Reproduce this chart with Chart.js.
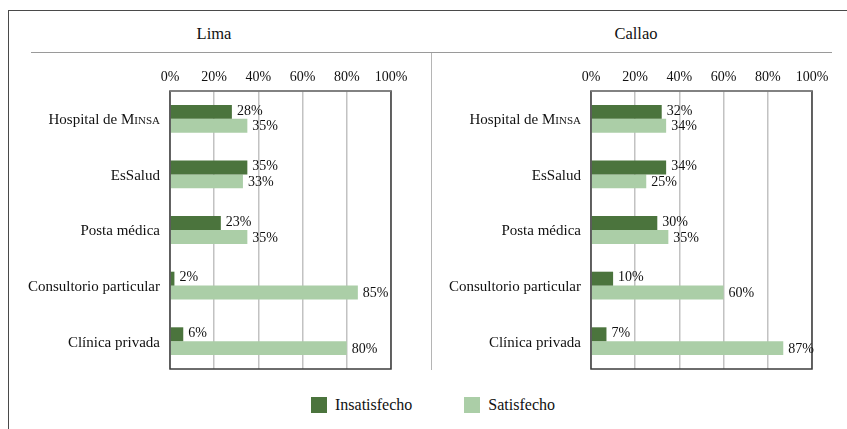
<!DOCTYPE html>
<html>
<head>
<meta charset="utf-8">
<script src="https://cdn.jsdelivr.net/npm/chart.js@4.4.1/dist/chart.umd.min.js"></script>
<style>
  body { margin: 0; background: #fff; overflow: hidden; width: 847px; height: 429px; position: relative; font-family: 'Liberation Serif', 'DejaVu Serif', serif; color: #111; }
  .frame { position: absolute; left: 8px; top: 10px; width: 900px; height: 500px; border: 1.5px solid #4a4a4a; box-sizing: border-box; }
  .title { position: absolute; top: 24px; width: 200px; text-align: center; font-size: 16.5px; }
  .rule { position: absolute; left: 31px; top: 52px; width: 801px; height: 0; border-top: 1.3px solid #9a9a9a; }
  .sep { position: absolute; left: 431px; top: 53px; width: 0; height: 317px; border-left: 1.5px solid #b5b5b5; }
  .chartbox { position: absolute; top: 60px; width: 430px; height: 320px; }
  #legend { position: absolute; left: 0; top: 396px; width: 866px; display: flex; justify-content: center; gap: 52px; font-size: 16px; }
  #legend span.item { display: flex; align-items: center; }
  #legend span.box { display: inline-block; width: 16px; height: 16px; margin-right: 8px; }
</style>
</head>
<body>
<div class="frame"></div>
<div class="title" style="left:114px">Lima</div>
<div class="title" style="left:536px">Callao</div>
<div class="rule"></div>
<div class="sep"></div>
<div class="chartbox" style="left:0px"><canvas id="lima"></canvas></div>
<div class="chartbox" style="left:421px"><canvas id="callao"></canvas></div>
<div id="legend"></div>
<script>
const categories = ["Hospital de MINSA", "EsSalud", "Posta médica", "Consultorio particular", "Clínica privada"];
const seriesNames = ["Insatisfecho", "Satisfecho"];
const seriesColors = ["#4b743d", "#abcea7"];
const limaInsatisfecho = [28, 35, 23, 2, 6];
const limaSatisfecho = [35, 33, 35, 85, 80];
const callaoInsatisfecho = [32, 34, 30, 10, 7];
const callaoSatisfecho = [34, 25, 35, 60, 87];
const xTicks = [0, 20, 40, 60, 80, 100];

const SERIF = "'Liberation Serif', 'DejaVu Serif', serif";
Chart.defaults.font.family = SERIF;

// category labels (drawn by hand so "Minsa" can be in small caps)
const catLabels = {
  id: 'catLabels',
  afterDraw(chart) {
    const ctx = chart.ctx, y = chart.scales.y, x0 = chart.chartArea.left - 10;
    ctx.save();
    ctx.fillStyle = '#111';
    ctx.textBaseline = 'middle';
    categories.forEach((c, i) => {
      const py = y.getPixelForValue(i) + 1.5;
      if (c.endsWith('MINSA')) {
        const head = c.slice(0, c.length - 4), tail = 'INSA';
        ctx.font = '11px ' + SERIF;
        const wt = ctx.measureText(tail).width;
        ctx.textAlign = 'right';
        ctx.fillText(tail, x0, py + 1);
        ctx.font = '15px ' + SERIF;
        ctx.fillText(head, x0 - wt, py);
      } else {
        ctx.font = '15px ' + SERIF;
        ctx.textAlign = 'right';
        ctx.fillText(c, x0, py);
      }
    });
    ctx.restore();
  }
};

// frame around plot area + value labels
const plotFrame = {
  id: 'plotFrame',
  afterDatasetsDraw(chart) {
    const ctx = chart.ctx, a = chart.chartArea;
    ctx.save();
    ctx.strokeStyle = '#3c3c3c';
    ctx.lineWidth = 1.5;
    ctx.strokeRect(a.left, a.top, a.right - a.left, a.bottom - a.top);
    ctx.strokeStyle = '#8a8a8a';
    ctx.beginPath();
    ctx.moveTo(a.left, a.top);
    ctx.lineTo(a.right, a.top);
    ctx.stroke();
    ctx.font = '14px ' + SERIF;
    ctx.fillStyle = '#111';
    ctx.textAlign = 'left';
    ctx.textBaseline = 'middle';
    chart.data.datasets.forEach((ds, di) => {
      chart.getDatasetMeta(di).data.forEach((bar, i) => {
        ctx.fillText(ds.data[i] + '%', bar.x + 5, bar.y + (di === 0 ? -1 : 1));
      });
    });
    ctx.restore();
  }
};

function makeChart(id, ins, sat) {
  return new Chart(document.getElementById(id), {
    type: 'bar',
    data: {
      labels: categories,
      datasets: [{
        label: seriesNames[0],
        data: ins,
        backgroundColor: seriesColors[0]
      }, {
        label: seriesNames[1],
        data: sat,
        backgroundColor: seriesColors[1]
      }]
    },
    options: {
      indexAxis: 'y',
      responsive: true,
      maintainAspectRatio: false,
      animation: false,
      layout: { padding: { left: 10, right: 39, top: 5, bottom: 11 } },
      datasets: { bar: { categoryPercentage: 0.5, barPercentage: 1.0 } },
      scales: {
        x: {
          position: 'top',
          min: 0,
          max: 100,
          afterBuildTicks: s => { s.ticks = xTicks.map(v => ({ value: v })); },
          afterFit: s => { s.height = 26; },
          grid: { color: '#c2c2c2', lineWidth: 1.5, drawTicks: false },
          border: { display: false },
          ticks: {
            padding: 5.5,
            color: '#111',
            font: { family: SERIF, size: 14 },
            maxRotation: 0,
            callback: v => v + '%'
          }
        },
        y: {
          afterFit: s => { s.width = 160; },
          grid: { display: false },
          border: { display: false },
          ticks: { display: false }
        }
      },
      plugins: {
        legend: { display: false },
        tooltip: { enabled: false }
      }
    },
    plugins: [catLabels, plotFrame]
  });
}

makeChart('lima', limaInsatisfecho, limaSatisfecho);
makeChart('callao', callaoInsatisfecho, callaoSatisfecho);

const legend = document.getElementById('legend');
seriesNames.forEach((n, i) => {
  const item = document.createElement('span');
  item.className = 'item';
  item.innerHTML = '<span class="box" style="background:' + seriesColors[i] + '"></span>' + n;
  legend.appendChild(item);
});
</script>
</body>
</html>
